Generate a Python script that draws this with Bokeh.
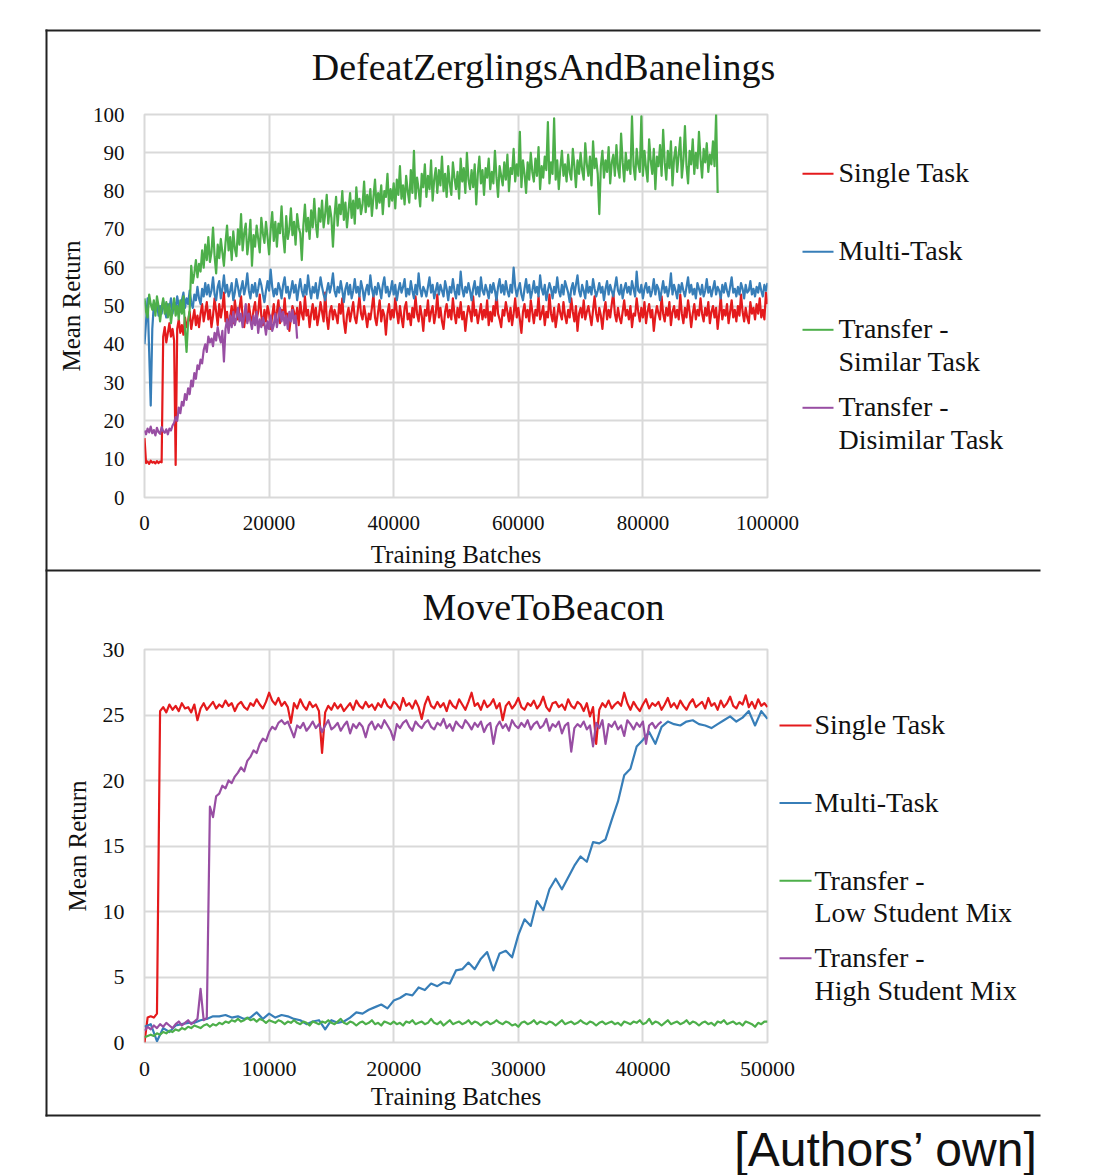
from bokeh.plotting import figure
from bokeh.models import Range1d, FixedTicker, NumeralTickFormatter, Spacer
from bokeh.layouts import column, row
from bokeh.core.properties import value
from bokeh.embed import file_html
from bokeh.resources import INLINE

SERIF = "Liberation Serif"
RED, BLUE, GREEN, PURPLE = "#e41a1c", "#377eb8", "#4daf4a", "#984ea3"
GRID = "#d9d9d9"
INK = "#111111"

# ---------------- DefeatZerglingsAndBanelings (all series sampled every 250 batches) ----------------
top_title = "DefeatZerglingsAndBanelings"
top_xticks = [0, 20000, 40000, 60000, 80000, 100000]
top_yticks = [0, 10, 20, 30, 40, 50, 60, 70, 80, 90, 100]
top_names = ["Single Task", "Multi-Task", "Transfer -\nSimilar Task", "Transfer -\nDisimilar Task"]

top_single = [
    15.5, 9.0, 9.4, 8.8, 9.6, 9.1, 9.3, 8.9, 9.5, 9.0, 9.4, 9.2, 42.0, 44.5, 40.5, 43.0, 45.5, 42.0, 44.0, 41.0,
    8.5, 44.0, 46.5, 43.0, 45.0, 42.5, 47.0, 44.5, 46.0, 48.5, 44.0, 46.5, 49.0, 45.0, 47.5, 44.5, 48.0, 50.5, 46.0, 48.5, 51.0,
    46.5, 49.0, 44.5, 47.5, 52.0, 48.5, 45.0, 50.5, 47.0, 49.5,
    53.5, 46.0, 48.5, 44.0, 47.0, 50.0, 45.5, 51.5, 48.0, 46.5,
    49.5, 52.5, 47.0, 44.5, 48.0, 46.0, 50.5, 47.5, 45.0, 49.0,
    51.0, 46.5, 48.5, 53.0, 47.5, 45.0, 49.0, 46.0, 50.0, 48.0,
    44.0, 47.5, 50.5, 46.0, 48.5, 51.5, 45.5, 49.0, 47.0, 52.0,
    46.5, 48.0, 43.5, 47.0, 50.0, 48.5, 46.0, 49.5, 45.0, 51.0,
    48.0, 46.5, 52.5, 47.5, 49.0, 44.5, 48.0, 50.5, 46.5, 49.5,
    45.0, 47.5, 51.0, 48.5, 46.0, 53.5, 47.0, 44.0, 48.5, 50.0,
    46.5, 49.0, 47.5, 45.5, 50.5, 48.0, 52.0, 46.0, 43.0, 47.5,
    49.5, 46.0, 48.5, 51.0, 47.0, 45.5, 49.0, 52.5, 48.0, 46.5,
    50.0, 47.5, 44.5, 48.0, 46.5, 49.5, 53.0, 47.0, 45.0, 48.5,
    51.5, 46.0, 49.0, 47.5, 42.5, 48.0, 50.5, 46.5, 49.0, 47.0,
    52.0, 48.5, 45.5, 50.0, 47.0, 44.5, 49.5, 51.0, 46.5, 48.0,
    45.0, 49.5, 47.0, 52.5, 48.0, 46.0, 50.0, 47.5, 43.5, 49.0,
    47.5, 51.5, 46.0, 48.5, 50.0, 45.5, 48.0, 53.0, 47.0, 49.5,
    46.0, 44.0, 48.5, 50.5, 47.0, 49.0, 46.5, 52.0, 48.0, 45.5,
    49.5, 47.0, 51.0, 46.5, 48.5, 43.5, 47.5, 50.0, 48.5, 46.0,
    52.5, 47.5, 49.0, 45.5, 48.0, 50.5, 46.5, 49.0, 47.0, 51.5,
    45.0, 48.5, 46.0, 50.0, 47.5, 53.5, 48.0, 46.5, 44.5, 49.0,
    47.5, 51.0, 48.5, 46.0, 49.5, 45.0, 48.0, 52.0, 47.0, 49.5,
    46.5, 43.0, 48.5, 50.5, 47.0, 49.0, 46.0, 51.5, 48.5, 45.5,
    49.0, 47.5, 52.5, 46.5, 48.0, 50.0, 45.0, 48.5, 47.0, 53.0,
    48.0, 46.0, 49.5, 44.5, 47.5, 50.5, 48.0, 46.5, 51.0, 47.5,
    45.5, 49.0, 47.0, 52.0, 48.5, 46.0, 50.0, 43.5, 48.0, 49.5,
    47.0, 51.5, 46.5, 48.5, 50.0, 47.5, 45.0, 49.0, 52.5, 48.0,
    46.0, 49.5, 47.5, 44.0, 48.5, 51.0, 46.5, 49.0, 47.0, 50.5,
    53.5, 48.0, 46.0, 49.5, 47.0, 45.5, 48.5, 51.5, 47.5, 49.0,
    46.5, 50.0, 44.5, 48.0, 47.5, 52.0, 48.5, 46.0, 49.5, 47.0,
    51.0, 45.5, 48.5, 50.5, 47.0, 49.0, 43.5, 47.5, 50.0, 48.0,
    46.5, 52.5, 48.0, 46.0, 49.5, 47.5, 51.0, 45.0, 48.5, 50.0,
    47.0, 49.0, 46.5, 53.0, 48.0, 45.5, 49.5, 47.0, 51.5, 48.5,
    44.5, 48.0, 50.5, 46.5, 49.0, 47.5, 52.0, 48.0, 46.0, 49.5,
    47.5, 51.0, 45.5, 48.5, 50.0, 47.0, 49.5, 44.0, 48.0, 52.5,
    46.5, 49.0, 47.5, 50.5, 45.5, 48.5, 51.5, 47.0, 49.0, 46.0,
    50.0, 47.5, 53.0, 48.5, 46.0, 49.5, 47.0, 45.5, 51.0, 48.0,
    49.5, 46.5, 50.5, 48.0, 52.0, 47.0, 49.0, 46.5, 53.5, 50.5,
]

top_multi = [
    40.0, 46.0, 52.0, 38.0, 24.0, 44.0, 50.5, 48.5, 51.0, 47.5, 50.0, 48.0, 51.5, 49.0, 47.0, 50.5, 49.5, 52.0, 48.0, 51.0,
    49.5, 52.5, 50.0, 48.5, 51.5, 53.5, 49.5, 52.0, 50.5, 54.0, 51.0, 49.5, 53.0, 51.5, 55.0, 52.0, 50.5, 54.5, 52.5, 56.0, 53.0,
    55.5, 52.5, 54.0, 57.5, 53.0, 51.5, 55.0, 56.5, 52.0, 54.5,
    58.0, 53.5, 55.5, 52.5, 54.0, 56.0, 51.5, 53.5, 57.0, 55.0,
    52.5, 54.5, 56.5, 53.0, 55.0, 58.5, 54.0, 52.0, 55.5, 53.5,
    56.0, 52.5, 54.5, 57.0, 55.5, 53.0, 51.0, 54.0, 56.5, 54.0,
    59.5, 55.0, 52.5, 54.5, 53.0, 56.0, 54.5, 52.0, 55.5, 57.5,
    53.5, 55.0, 52.0, 54.0, 56.5, 53.5, 55.5, 51.5, 54.5, 57.0,
    54.0, 52.5, 55.5, 53.0, 58.0, 54.5, 52.0, 55.0, 53.5, 56.0,
    52.0, 54.5, 57.5, 55.0, 53.0, 51.5, 54.0, 56.0, 53.5, 55.5,
    58.5, 54.0, 52.5, 55.0, 53.5, 56.5, 54.0, 51.0, 54.5, 56.0,
    53.0, 55.5, 52.0, 54.0, 57.0, 53.5, 55.0, 52.5, 56.5, 54.5,
    51.5, 54.0, 55.5, 53.0, 58.0, 54.5, 52.5, 55.0, 53.0, 56.0,
    54.5, 52.0, 55.5, 57.5, 53.5, 55.0, 52.5, 54.0, 56.5, 53.0,
    55.5, 51.5, 54.0, 56.0, 53.5, 55.0, 57.0, 52.5, 54.5, 53.0,
    56.5, 54.0, 52.0, 55.5, 53.0, 58.5, 54.5, 52.5, 55.0, 54.0,
    52.5, 55.0, 57.5, 53.5, 55.5, 52.0, 54.0, 56.0, 53.0, 55.5,
    54.0, 52.5, 56.5, 54.5, 51.5, 55.0, 53.5, 57.0, 54.0, 52.0,
    55.5, 53.0, 59.0, 54.5, 52.5, 55.0, 53.5, 56.0, 54.0, 51.5,
    54.5, 56.5, 53.0, 55.0, 52.5, 57.5, 54.0, 53.0, 55.5, 54.0,
    52.0, 55.5, 53.5, 56.0, 54.0, 51.5, 55.0, 57.0, 53.5, 55.5,
    53.0, 56.5, 54.0, 52.5, 55.5, 53.5, 60.0, 55.0, 52.5, 54.5,
    56.0, 53.0, 51.5, 54.5, 57.0, 53.5, 55.5, 52.0, 54.0, 56.5,
    53.5, 55.0, 52.5, 58.0, 54.5, 53.0, 55.5, 51.5, 54.0, 56.0,
    54.5, 52.0, 55.0, 53.5, 57.5, 54.0, 52.5, 55.5, 53.0, 56.5,
    55.0, 53.5, 51.0, 54.5, 56.0, 53.0, 55.5, 58.0, 54.0, 52.5,
    55.5, 54.0, 52.0, 56.5, 53.5, 55.0, 53.0, 57.0, 54.5, 52.5,
    54.0, 56.0, 53.5, 55.0, 51.5, 54.5, 56.5, 53.0, 55.5, 54.0,
    52.5, 55.0, 57.5, 54.0, 53.0, 55.5, 52.0, 54.5, 56.0, 53.5,
    55.0, 53.0, 56.5, 54.5, 52.5, 59.0, 54.0, 53.5, 55.5, 52.0,
    54.5, 56.0, 53.5, 55.0, 52.5, 54.0, 57.0, 53.0, 55.5, 54.5,
    51.5, 54.0, 56.5, 53.5, 55.0, 52.5, 54.5, 58.5, 53.0, 55.5,
    54.0, 52.0, 55.5, 53.5, 56.0, 54.0, 52.5, 55.0, 57.5, 53.5,
    55.5, 53.0, 54.5, 52.0, 56.0, 54.5, 53.0, 55.5, 52.5, 54.0,
    57.0, 53.5, 55.0, 52.5, 54.5, 56.5, 53.0, 55.0, 54.0, 52.0,
    55.5, 53.5, 56.0, 54.0, 52.5, 55.0, 57.5, 53.5, 54.5, 52.5,
    55.0, 53.0, 56.0, 54.5, 52.0, 55.5, 53.5, 54.0, 56.5, 53.0,
    54.5, 52.5, 55.0, 53.5, 56.0, 54.0, 52.5, 55.5, 54.0, 56.0,
]

top_similar = [
    52.0, 48.5, 47.0, 53.0, 50.5, 49.0, 51.5, 47.5, 52.5, 50.0, 46.0, 49.5, 52.0, 48.0, 51.0, 47.0, 50.5, 45.5, 49.0, 52.0,
    47.5, 50.0, 46.5, 51.5, 48.0, 52.5, 44.0, 38.0, 46.0, 49.0, 60.5, 56.0, 58.5, 62.0, 57.5, 61.0, 59.0, 64.5, 60.0, 66.0, 62.0,
    68.0, 61.5, 64.0, 70.5, 63.0, 58.5, 66.0, 62.5, 67.5, 64.0,
    60.5, 66.5, 71.0, 64.5, 68.0, 62.0, 69.5, 65.0, 63.0, 70.0,
    66.0, 74.0, 64.5, 69.0, 71.5, 63.5, 67.0, 72.5, 60.5, 68.5,
    65.5, 71.0, 67.5, 64.0, 73.0, 69.0, 66.5, 72.0, 68.0, 63.5,
    70.0, 74.5, 67.0, 72.0, 65.5, 71.5, 69.0, 76.0, 68.5, 64.0,
    73.5, 67.5, 70.0, 75.5, 68.5, 72.0, 66.0, 74.0, 70.5, 69.0,
    62.0, 71.0, 76.5, 69.5, 73.0, 67.5, 75.0, 70.5, 78.0, 71.5,
    68.0, 75.5, 72.0, 77.5, 70.5, 74.0, 79.0, 71.5, 76.0, 73.0,
    65.5, 73.5, 78.5, 71.0, 76.5, 74.0, 80.0, 72.5, 77.0, 70.5,
    75.0, 79.5, 73.0, 77.5, 71.5, 81.0, 75.5, 78.0, 74.0, 76.5,
    82.5, 74.5, 79.0, 76.0, 80.5, 73.5, 78.5, 83.0, 75.5, 79.5,
    77.0, 81.5, 74.0, 80.0, 78.5, 84.5, 76.0, 80.5, 77.5, 82.0,
    75.5, 83.0, 79.0, 86.5, 78.0, 81.5, 76.5, 84.0, 80.0, 77.0,
    85.5, 79.5, 90.5, 78.0, 83.5, 80.5, 76.0, 84.5, 81.0, 87.0,
    78.5, 84.0, 80.5, 88.0, 77.5, 83.0, 86.0, 79.5, 85.5, 81.5,
    89.0, 80.0, 84.5, 78.5, 86.5, 82.0, 79.0, 87.5, 83.5, 80.5,
    85.0, 78.0, 88.5, 82.5, 86.0, 79.5, 90.0, 83.0, 80.5, 85.5,
    81.0, 87.0, 76.5, 84.5, 89.0, 82.0, 85.5, 79.0, 86.0, 83.5,
    88.5, 80.5, 85.0, 82.0, 90.5, 83.5, 78.5, 86.5, 84.0, 81.5,
    87.5, 83.0, 89.5, 80.0, 86.0, 84.5, 91.0, 82.5, 87.0, 84.0,
    95.5, 81.0, 88.0, 84.5, 79.5, 87.5, 83.0, 90.0, 85.0, 82.5,
    88.5, 84.0, 91.5, 80.5, 86.5, 83.5, 89.0, 85.5, 98.0, 82.0,
    87.5, 84.5, 99.0, 83.0, 88.0, 80.5, 86.0, 90.5, 84.0, 87.0,
    82.5, 89.5, 85.0, 83.0, 91.0, 86.5, 81.0, 88.0, 84.5, 90.0,
    85.5, 83.0, 92.5, 87.0, 84.0, 89.0, 81.5, 93.0, 86.0, 88.5,
    84.5, 74.0, 86.5, 90.5, 83.5, 88.0, 85.0, 91.5, 82.0, 87.5,
    89.5, 84.0, 92.0, 86.0, 83.5, 95.0, 87.5, 82.5, 90.0, 85.5,
    88.0, 84.5, 99.5, 86.5, 83.0, 91.0, 87.0, 85.0, 99.5, 84.0,
    90.5, 86.0, 82.5, 93.5, 88.0, 84.5, 91.0, 80.5, 89.0, 86.5,
    92.0, 84.0, 96.0, 87.5, 83.0, 90.5, 86.0, 93.0, 81.5, 88.5,
    91.5, 85.0, 89.5, 94.0, 83.5, 88.0, 97.0, 86.5, 82.0, 90.5,
    87.0, 93.5, 84.5, 90.0, 86.0, 95.5, 88.5, 83.5, 91.0, 87.5,
    92.5, 85.0, 89.5, 87.0, 93.0, 86.5, 100.0, 79.5,
]

top_dissimilar = [
    17.5, 16.5, 18.0, 17.0, 18.5, 16.8, 17.6, 16.2, 18.2, 17.1, 16.6, 18.4, 17.3, 16.9, 17.8, 16.5, 18.0,
    17.5, 18.8, 19.5, 21.0,
    20.0, 23.5, 22.0, 25.0, 24.0, 27.0, 25.5, 28.5,
    27.0, 30.5, 29.0, 32.5, 31.0, 34.5, 33.5, 36.0,
    35.0, 38.5, 40.0, 38.0, 42.0, 40.5, 41.5, 39.5,
    43.0, 41.0, 44.5, 42.0, 40.5, 43.5, 35.5, 44.0,
    46.5, 43.0, 47.5, 44.5, 48.5, 45.0, 47.0, 49.5,
    46.0, 48.0, 44.5, 47.5, 50.5, 45.5, 48.0, 46.0,
    44.0, 47.5, 45.0, 48.5, 43.0, 46.5, 44.5, 47.0,
    45.5, 42.5, 46.0, 44.0, 47.5, 43.5, 45.0, 48.0,
    44.5, 47.0, 49.5, 46.0, 48.5, 45.0, 47.5, 44.0,
    48.5, 46.0, 49.0, 45.5, 47.5, 41.5,
]

# ---------------- MoveToBeacon (red/purple/green every 250 batches, blue every 500) ----------------
bot_title = "MoveToBeacon"
bot_xticks = [0, 10000, 20000, 30000, 40000, 50000]
bot_yticks = [0, 5, 10, 15, 20, 25, 30]
bot_names = ["Single Task", "Multi-Task", "Transfer -\nLow Student Mix", "Transfer -\nHigh Student Mix"]

bot_single = [
    0.0, 1.9, 2.0, 1.9, 2.2,
    25.3, 25.6, 25.2, 25.8, 25.4, 25.7, 25.3, 25.9, 25.5, 25.6,
    25.2, 25.8, 24.6, 25.5, 25.9, 25.4, 25.7, 26.0, 25.5, 25.8,
    25.6, 26.1, 25.7, 25.9, 25.3, 25.8, 26.0, 25.6, 25.4, 25.9,
    25.7, 26.2, 25.8, 25.5, 26.0, 26.7, 26.1, 25.8, 26.3, 25.7,
    26.0, 25.6, 24.4, 25.9, 25.5, 26.2, 25.7, 25.4, 26.0, 25.6,
    25.8, 25.3, 22.1, 25.2, 25.7, 25.4, 25.9, 25.5, 25.8, 25.3,
    25.6, 25.9, 25.4, 26.1, 25.7, 25.5, 26.0, 25.6, 25.8, 25.4,
    25.9, 25.6, 26.2, 25.7, 25.5, 26.0, 25.8, 25.4, 26.3, 25.7,
    25.9, 25.5, 26.1, 25.6, 24.7, 25.8, 26.4, 25.7, 25.5, 26.0,
    25.6, 25.9, 25.3, 26.1, 25.7, 25.5, 26.2, 25.8, 25.4, 26.0,
    26.7, 25.7, 25.9, 25.4, 26.1, 25.6, 25.8, 26.2, 25.5, 25.9,
    24.6, 25.7, 26.0, 25.5, 25.8, 26.3, 25.6, 25.4, 25.9, 25.7,
    26.1, 25.5, 25.8, 26.4, 25.6, 25.3, 25.9, 26.0, 25.6, 25.8,
    25.4, 26.2, 25.7, 25.5, 26.0, 25.8, 25.3, 25.9, 24.9, 25.6,
    22.8, 25.4, 25.9, 25.6, 26.1, 25.5, 25.8, 26.0, 25.7, 26.7,
    25.9, 25.4, 26.0, 25.6, 25.3, 25.8, 26.2, 25.5, 25.9, 25.7,
    26.0, 25.4, 25.8, 26.3, 25.6, 25.9, 25.5, 26.1, 25.7, 25.4,
    25.9, 26.2, 25.6, 25.8, 26.0, 25.5, 26.3, 25.7, 25.9, 25.4,
    26.1, 25.6, 25.9, 26.4, 25.7, 25.5, 26.0, 25.8, 26.5, 25.6,
    26.0, 25.5, 26.2, 25.7, 25.9, 25.6,
]

bot_multi = [
    1.2, 1.4, 0.1, 1.1, 0.8, 1.3, 1.4, 1.5, 1.5, 1.7,
    1.8, 2.0, 2.0, 2.1, 1.9, 2.0, 1.8, 1.9, 2.3, 1.8,
    2.2, 1.9, 2.1, 2.0, 1.8, 1.7, 1.4, 1.6, 1.7, 1.0,
    1.7, 1.5, 1.6, 1.9, 2.3, 2.2, 2.5, 2.7, 2.9, 2.6,
    3.2, 3.4, 3.7, 3.6, 4.2, 4.0, 4.5, 4.3, 4.6, 4.5,
    5.5, 5.6, 6.1, 5.6, 6.4, 6.9, 5.5, 6.8, 7.0, 6.5,
    8.2, 9.4, 8.9, 10.8, 10.1, 11.7, 12.5, 11.7, 12.6, 13.5,
    14.2, 13.8, 15.3, 15.2, 15.5, 17.0, 18.4, 20.4, 20.9, 22.6,
    23.1, 23.7, 22.8, 24.1, 24.5, 24.3, 24.2, 24.5, 24.6, 24.3,
    24.2, 24.0, 24.3, 24.6, 24.9, 24.5, 24.8, 25.3, 24.2, 25.3,
    24.7,
]

bot_low = [
    0.4, 0.5, 0.6, 0.5, 0.7, 0.6, 0.8, 0.7, 0.9, 0.8,
    1.0, 0.9, 1.1, 1.0, 1.2, 1.1, 1.3, 1.2, 1.1, 1.3,
    1.4, 1.2, 1.4, 1.3, 1.5, 1.4, 1.6, 1.5, 1.7, 1.6,
    1.8, 1.6, 1.7, 1.9, 1.7, 1.8, 1.6, 1.8, 1.7, 1.5,
    1.7, 1.6, 1.5, 1.7, 1.6, 1.4, 1.6, 1.5, 1.7, 1.5,
    1.4, 1.6, 1.5, 1.3, 1.6, 1.5, 1.4, 1.6, 1.5, 1.7,
    1.5, 1.4, 1.6, 1.8, 1.5, 1.4, 1.6, 1.5, 1.3, 1.5,
    1.6, 1.4, 1.5, 1.7, 1.4, 1.5, 1.3, 1.6, 1.5, 1.4,
    1.6, 1.4, 1.5, 1.3, 1.6, 1.5, 1.7, 1.4, 1.5, 1.6,
    1.4, 1.5, 1.8, 1.5, 1.4, 1.6, 1.3, 1.5, 1.7, 1.4,
    1.5, 1.6, 1.4, 1.5, 1.7, 1.4, 1.6, 1.5, 1.3, 1.5,
    1.6, 1.4, 1.5, 1.7, 1.5, 1.4, 1.6, 1.5, 1.3, 1.4,
    1.2, 1.5, 1.6, 1.4, 1.5, 1.7, 1.4, 1.6, 1.5, 1.4,
    1.6, 1.5, 1.3, 1.5, 1.7, 1.4, 1.5, 1.6, 1.4, 1.5,
    1.7, 1.5, 1.4, 1.6, 1.5, 1.3, 1.5, 1.6, 1.4, 1.5,
    1.6, 1.4, 1.5, 1.3, 1.6, 1.5, 1.4, 1.6, 1.5, 1.7,
    1.4, 1.5, 1.8, 1.4, 1.6, 1.5, 1.3, 1.5, 1.7, 1.4,
    1.5, 1.6, 1.4, 1.5, 1.7, 1.4, 1.6, 1.5, 1.3, 1.5,
    1.6, 1.4, 1.5, 1.3, 1.6, 1.5, 1.7, 1.4, 1.5, 1.6,
    1.4, 1.5, 1.3, 1.6, 1.5, 1.4, 1.2, 1.5, 1.4, 1.6,
    1.6,
]

bot_high = [
    0.9, 1.2, 1.0, 1.3, 1.1, 1.4, 1.2, 1.5, 1.3, 1.1, 1.4, 1.6, 1.3, 1.5, 1.7, 1.4, 1.6, 1.8,
    4.1, 1.7, 1.9,
    18.0, 17.2, 18.8, 19.0, 19.6, 19.4, 20.0, 19.8, 20.3, 20.6,
    21.0, 20.7, 21.5, 21.8, 22.3, 22.1, 22.8, 23.2, 23.0, 23.7,
    24.1, 23.9, 24.4, 24.6, 24.3, 24.5, 23.9, 23.3, 24.2, 24.0,
    24.4, 23.8, 24.1, 24.5, 24.0, 24.3, 23.7, 24.2, 24.6, 23.9,
    24.1, 24.4, 23.8, 24.2, 24.5, 23.6, 24.3, 24.0, 24.4, 24.1,
    23.3, 24.2, 24.5, 23.9, 24.3, 24.0, 24.6, 24.2, 23.8, 23.1,
    24.3, 24.0, 24.4, 24.6, 24.1, 23.8, 24.5, 24.2, 24.0, 24.4,
    24.6, 24.1, 23.9, 24.4, 24.2, 24.7, 24.0, 24.3, 23.8, 24.5,
    24.2, 24.0, 24.6, 24.3, 23.9, 24.4, 24.1, 24.5, 23.7, 24.2,
    24.4, 22.8, 24.1, 24.5, 24.0, 24.3, 23.8, 24.6, 24.2, 24.0,
    24.4, 24.1, 24.6, 23.9, 24.3, 24.5, 24.0, 24.2, 24.7, 23.8,
    24.3, 24.1, 24.5, 23.6, 24.2, 24.4, 22.2, 24.0, 24.3, 24.1,
    24.5, 23.9, 24.2, 22.6, 24.4, 24.0, 24.6, 22.8, 24.3, 24.1,
    24.5, 23.9, 24.2, 23.4, 24.6, 24.3, 23.9, 24.4, 24.1, 24.5,
    22.8, 24.2, 24.4, 24.0, 24.3, 24.5,
]

caption = "[Authors\u2019 own]"
COLORS = [RED, BLUE, GREEN, PURPLE]


def xs(vals, step):
    return [i * step for i in range(len(vals))]


def make_panel(width, height, f_left, f_width, f_top, f_height, xmax, ymax, xticks, yticks,
               tick_px, series, x_std, x_lab_std, y_lab_std):
    p = figure(width=width, height=height, x_range=Range1d(0, xmax), y_range=Range1d(0, ymax),
               output_backend="svg", toolbar_location=None, title=None,
               min_border_left=f_left, min_border_right=width - f_left - f_width,
               min_border_top=f_top, min_border_bottom=height - f_top - f_height)
    p.background_fill_color = "white"
    p.border_fill_color = "white"
    p.outline_line_color = GRID
    p.outline_line_width = 2
    p.xaxis.ticker = FixedTicker(ticks=xticks)
    p.xaxis.formatter = NumeralTickFormatter(format="0")
    p.yaxis.ticker = FixedTicker(ticks=yticks)
    for ax in p.axis:
        ax.axis_line_color = None
        ax.major_tick_line_color = None
        ax.minor_tick_line_color = None
        ax.major_tick_out = 0
        ax.major_tick_in = 0
        ax.major_label_text_font = SERIF
        ax.major_label_text_font_size = tick_px
        ax.major_label_text_color = INK
        ax.axis_label_text_font = SERIF
        ax.axis_label_text_font_size = "25px"
        ax.axis_label_text_font_style = "normal"
        ax.axis_label_text_color = INK
    p.xaxis.axis_label = "Training Batches"
    p.yaxis.axis_label = "Mean Return"
    p.xaxis.major_label_standoff = x_std
    p.yaxis.major_label_standoff = 20
    p.xaxis.axis_label_standoff = x_lab_std
    p.yaxis.axis_label_standoff = y_lab_std
    p.grid.grid_line_color = GRID
    p.grid.grid_line_width = 2
    for (x, y), c in zip(series, COLORS):
        p.line(x, y, line_color=c, line_width=2.2, line_join="round")
    return p


# canvases (page pixels): top 47..1040 x 31..578 ; bottom 47..1040 x 578..1130
top = make_panel(993, 547, 97, 623, 83, 383, 100000, 100, top_xticks, top_yticks, "21px",
                 [(xs(top_single, 250), top_single), (xs(top_multi, 250), top_multi),
                  (xs(top_similar, 250), top_similar), (xs(top_dissimilar, 250), top_dissimilar)],
                 18, 8, 5)

bot = make_panel(993, 552, 90, 635, 71, 393, 50000, 30, bot_xticks, bot_yticks, "22px",
                 [(xs(bot_single, 250), bot_single), (xs(bot_multi, 500), bot_multi),
                  (xs(bot_low, 250), bot_low), (xs(bot_high, 250), bot_high)],
                 19, 4, 9)

plots = column(Spacer(width=1040, height=31),
               row(Spacer(width=47, height=1099), column(top, bot, spacing=0), spacing=0),
               spacing=0)

# ---------------- overlay in page pixels (titles, legends, panel lines, caption) ----------------
OW, OH = 1090, 1175
ov = figure(width=OW, height=OH, x_range=Range1d(0, OW), y_range=Range1d(OH, 0),
            output_backend="svg", toolbar_location=None, title=None, min_border=0,
            x_axis_type=None, y_axis_type=None, margin=(-1130, 0, 0, 0))
ov.background_fill_alpha = 0
ov.border_fill_alpha = 0
ov.outline_line_color = None

ov.segment(x0=[45, 46, 45, 45], y0=[30, 29, 570, 1115], x1=[1040, 46, 1040, 1040], y1=[30, 1116, 570, 1115],
           line_color="#222222", line_width=2)

ov.text(x=[543, 543], y=[66, 606], text=[top_title, bot_title], text_font=value(SERIF),
        text_font_size=value("38px"), text_align="center", text_baseline="alphabetic", text_color=INK)


def legend(names, sw_x0, sw_x1, sw_y0, pitch, txt_x, dy, gap):
    sx0, sx1, sy, cols, tx, ty, tt = [], [], [], [], [], [], []
    for i, (n, c) in enumerate(zip(names, COLORS)):
        yc = sw_y0 + i * pitch
        sx0.append(sw_x0); sx1.append(sw_x1); sy.append(yc); cols.append(c)
        for j, part in enumerate(n.split("\n")):
            tx.append(txt_x); ty.append(yc + dy + j * gap); tt.append(part)
    ov.segment(x0=sx0, y0=sy, x1=sx1, y1=sy, line_color=cols, line_width=2)
    ov.text(x=tx, y=ty, text=tt, text_font=value(SERIF), text_font_size=value("28px"),
            text_align="left", text_baseline="alphabetic", text_color=INK)


legend(top_names, 802, 833, 173.3, 78, 838, -1.5, 33.3)
legend(bot_names, 779, 811, 725, 77.6, 814, -0.7, 32.7)

ov.text(x=[1038], y=[1149], text=[caption], text_font=value("Liberation Sans"),
        text_font_size=value("48px"), text_align="right", text_baseline="alphabetic", text_color=INK)

layout = column(plots, ov, spacing=0)

open("out.html", "w").write(file_html(layout, INLINE))
